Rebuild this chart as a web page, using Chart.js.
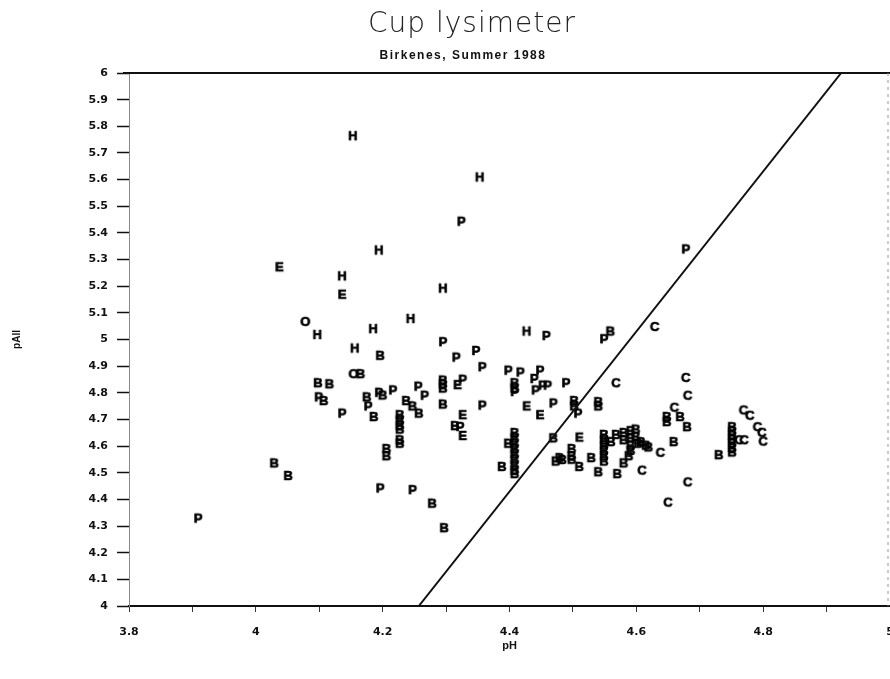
<!DOCTYPE html>
<html>
<head>
<meta charset="utf-8">
<title>Cup lysimeter</title>
<script src="https://cdn.jsdelivr.net/npm/chart.js@4.4.1/dist/chart.umd.min.js"></script>
<style>
  html, body { margin: 0; padding: 0; background: #fff; }
  canvas { display: block; }
</style>
</head>
<body>
<canvas id="lysimeter" width="890" height="679"></canvas>
<script>
// pH / pAl pairs, one list per sampling plot letter
const hPoints = [[4.153,5.763],[4.353,5.608],[4.194,5.334],[4.136,5.237],[4.295,5.191],[4.097,5.017],
  [4.185,5.039],[4.244,5.077],[4.156,4.966],[4.427,5.030]];

const ePoints = [[4.037,5.271],[4.136,5.168],[4.318,4.829],[4.326,4.716],[4.326,4.638],[4.427,4.749],
  [4.448,4.716],[4.510,4.632]];

const oPoints = [[4.078,5.066],[4.154,4.870]];

const pPoints = [[4.324,5.442],[4.678,5.338],[4.458,5.013],[4.549,5.001],[4.295,4.990],[4.316,4.932],
  [4.347,4.957],[4.357,4.896],[4.099,4.783],[4.136,4.722],[4.177,4.749],[4.194,4.800],[4.216,4.809],
  [4.256,4.823],[4.266,4.789],[4.326,4.849],[4.357,4.752],[4.322,4.672],[4.398,4.883],[4.417,4.876],
  [4.448,4.883],[4.439,4.852],[4.408,4.803],[4.441,4.809],[4.452,4.827],[4.460,4.827],[4.489,4.836],
  [4.469,4.760],[4.508,4.722],[3.909,4.328],[4.196,4.441],[4.247,4.435]];

const bPoints = [[4.196,4.939],[4.165,4.870],[4.098,4.836],[4.116,4.832],[4.107,4.769],[4.175,4.783],
  [4.186,4.709],[4.200,4.790],[4.237,4.769],[4.247,4.749],[4.257,4.722],
  [4.227,4.716],[4.227,4.696],[4.227,4.676],[4.227,4.662],[4.227,4.622],[4.227,4.609],
  [4.206,4.589],[4.206,4.562],
  [4.295,4.846],[4.295,4.832],[4.295,4.816],[4.295,4.756],[4.314,4.675],
  [4.408,4.836],[4.408,4.816],[4.559,5.030],
  [4.502,4.769],[4.502,4.749],[4.540,4.765],[4.540,4.749],
  [4.408,4.649],[4.408,4.629],[4.408,4.609],[4.408,4.589],[4.408,4.569],[4.408,4.549],
  [4.408,4.528],[4.408,4.508],[4.408,4.495],[4.398,4.609],[4.388,4.522],
  [4.469,4.629],[4.473,4.542],[4.479,4.555],[4.483,4.548],
  [4.498,4.589],[4.498,4.562],[4.498,4.549],[4.510,4.522],[4.529,4.555],[4.540,4.502],[4.570,4.495],
  [4.549,4.642],[4.549,4.622],[4.549,4.602],[4.549,4.582],[4.549,4.562],[4.549,4.542],
  [4.568,4.642],[4.580,4.649],[4.591,4.656],[4.599,4.662],[4.580,4.622],[4.591,4.629],[4.599,4.635],
  [4.591,4.602],[4.603,4.609],[4.591,4.582],[4.607,4.615],[4.615,4.602],[4.619,4.595],[4.588,4.562],
  [4.580,4.535],[4.560,4.615],
  [4.659,4.615],[4.648,4.709],[4.648,4.690],[4.669,4.709],[4.680,4.671],[4.730,4.566],
  [4.751,4.671],[4.751,4.655],[4.751,4.640],[4.751,4.625],[4.751,4.610],[4.751,4.592],[4.751,4.576],
  [4.029,4.535],[4.051,4.488],[4.278,4.384],[4.297,4.292]];

const cPoints = [[4.629,5.047],[4.568,4.836],[4.678,4.856],[4.681,4.789],[4.638,4.575],[4.609,4.508],
  [4.660,4.744],[4.681,4.464],[4.650,4.388],[4.769,4.734],[4.779,4.714],[4.791,4.671],[4.798,4.650],
  [4.800,4.617],[4.762,4.622],[4.770,4.622]];

// gibbsite line
const linePH = [4.257, 4.923];
const linePAl = [4, 6];

const SANS = '"Liberation Sans", Arial, sans-serif';
const DEJAVU = '"DejaVu Sans", sans-serif';
const MARK_FONT = 'bold 13px ' + SANS;
const TICK_FONT = { family: DEJAVU, size: 11, weight: 'bold' };

// small canvas with one letter, used as point style
function letterSprite(ch) {
    const c = document.createElement('canvas');
    c.width = 16;
    c.height = 16;
    const g = c.getContext('2d');
    g.font = MARK_FONT;
    g.fillStyle = '#000';
    g.strokeStyle = '#000';
    g.lineWidth = 0.7;
    g.textAlign = 'center';
    g.textBaseline = 'middle';
    g.fillText(ch, 8, 8.5);
    g.strokeText(ch, 8, 8.5);
    return c;
}

function toXY(list) {
    return list.map(p => ({ x: p[0], y: p[1] }));
}

function letterSet(ch, list) {
    return {
        type: 'scatter',
        label: ch,
        data: toXY(list),
        pointStyle: letterSprite(ch),
        pointRadius: 6,
        pointHoverRadius: 6
    };
}

// headings, solid top line and faint dashed right edge
const framePlugin = {
    id: 'frame',
    afterDraw(chart) {
        const { ctx, chartArea: a } = chart;
        ctx.save();
        ctx.fillStyle = '#222';
        ctx.textAlign = 'center';
        ctx.textBaseline = 'middle';
        ctx.font = '200 28px ' + DEJAVU;
        ctx.letterSpacing = '1px';
        ctx.fillText('Cup lysimeter', 472, 25);
        ctx.fillStyle = '#111';
        ctx.font = 'bold 12px ' + SANS;
        ctx.letterSpacing = '1.5px';
        ctx.fillText('Birkenes, Summer 1988', 463, 56);
        ctx.letterSpacing = '0px';

        ctx.strokeStyle = '#111';
        ctx.lineWidth = 2;
        ctx.beginPath();
        ctx.moveTo(a.left - 6, a.top);
        ctx.lineTo(a.right, a.top);
        ctx.stroke();
        ctx.strokeStyle = '#999';
        ctx.lineWidth = 1;
        ctx.setLineDash([3, 4]);
        ctx.beginPath();
        ctx.moveTo(a.right - 2, a.top);
        ctx.lineTo(a.right - 2, a.bottom);
        ctx.stroke();
        ctx.restore();
    }
};

const lineData = linePH.map((x, i) => ({ x: x, y: linePAl[i] }));

new Chart(document.getElementById('lysimeter'), {
    type: 'scatter',
    data: {
        datasets: [
            {
                type: 'line',
                label: 'gibbsite',
                data: lineData,
                borderColor: '#111',
                borderWidth: 2,
                pointRadius: 0,
                fill: false
            },
            letterSet('H', hPoints),
            letterSet('E', ePoints),
            letterSet('O', oPoints),
            letterSet('P', pPoints),
            letterSet('B', bPoints),
            letterSet('C', cPoints)
        ]
    },
    options: {
        responsive: false,
        animation: false,
        devicePixelRatio: 1,
        layout: { autoPadding: false, padding: { top: 73, left: 0, right: 0, bottom: 0 } },
        plugins: {
            legend: { display: false },
            tooltip: { enabled: false }
        },
        scales: {
            x: {
                type: 'linear',
                min: 3.8,
                max: 5.0,
                afterFit(scale) {
                    scale.height = 73;
                    scale.paddingLeft = 0;
                    scale.paddingRight = 0;
                },
                border: { display: true, color: '#111', width: 2 },
                grid: { drawOnChartArea: false, drawTicks: true, tickLength: 6, tickColor: '#333', tickWidth: 1 },
                ticks: {
                    stepSize: 0.1,
                    autoSkip: false,
                    maxRotation: 0,
                    padding: 14,
                    color: '#111',
                    font: TICK_FONT,
                    callback(v) {
                        const t = Math.round(v * 10);
                        return t % 2 === 0 ? String(t / 10) : '';
                    }
                },
                title: {
                    display: true,
                    text: 'pH',
                    color: '#111',
                    font: { family: SANS, size: 11, weight: 'bold' },
                    padding: { top: 0, bottom: 26 }
                }
            },
            y: {
                type: 'linear',
                min: 4,
                max: 6,
                afterFit(scale) {
                    scale.width = 129;
                    scale.paddingTop = 0;
                    scale.paddingBottom = 0;
                },
                border: { display: true, color: '#888', width: 1, dash: [2, 3] },
                grid: { drawOnChartArea: false, drawTicks: true, tickLength: 12, tickColor: '#111', tickWidth: 1.5 },
                ticks: {
                    stepSize: 0.1,
                    autoSkip: false,
                    padding: 9,
                    color: '#111',
                    font: TICK_FONT,
                    callback(v) {
                        return String(Math.round(v * 10) / 10);
                    }
                },
                title: {
                    display: true,
                    text: 'pAll',
                    color: '#111',
                    font: { family: SANS, size: 10, weight: 'bold' },
                    padding: { top: 11, bottom: 0 }
                }
            }
        }
    },
    plugins: [framePlugin]
});
</script>
</body>
</html>
